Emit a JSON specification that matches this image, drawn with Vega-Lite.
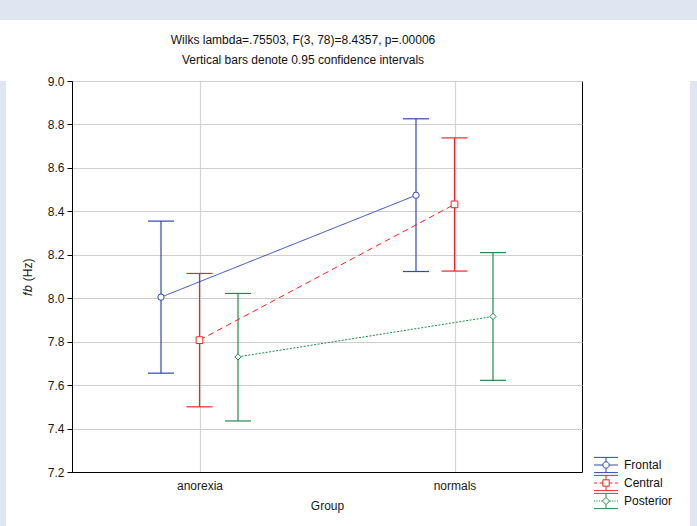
{
  "$schema": "https://vega.github.io/schema/vega-lite/v6.json",
  "padding": 0,
  "background": "white",
  "spacing": 13,
  "config": {
    "font": "Liberation Sans",
    "axis": {"labelFont": "Liberation Sans", "titleFont": "Liberation Sans", "labelFontSize": 12, "titleFontSize": 12, "titleFontWeight": "normal", "labelColor": "#1a1a1a", "titleColor": "#1a1a1a"},
    "legend": {"labelFont": "Liberation Sans"}
  },
  "vconcat": [
    {
      "width": 697, "height": 20,
      "data": {"values": []},
      "mark": "point",
      "view": {"fill": "#dfe6f2", "stroke": null}
    },
    {
      "spacing": 0,
      "bounds": "flush",
      "hconcat": [
        {
          "width": 6, "height": 445,
          "data": {"values": []},
          "mark": "point",
          "view": {"fill": "#dfe6f2", "stroke": null}
        },
        {
          "width": 66, "height": 445,
          "data": {"values": []},
          "mark": "point",
          "view": {"fill": null, "stroke": null}
        },
        {
          "width": 510,
          "height": 391,
          "title": {
            "text": ["Wilks lambda=.75503, F(3, 78)=8.4357, p=.00006", "Vertical bars denote 0.95 confidence intervals"],
            "font": "Liberation Sans", "fontSize": 12, "fontWeight": "normal", "color": "#111111",
            "lineHeight": 20, "anchor": "middle", "frame": "group", "dx": -24, "offset": 8
          },
          "view": {"stroke": "black", "strokeWidth": 1, "fill": "white"},
          "data": {
            "values": [
              {"series": "Frontal", "group": "anorexia", "mean": 8.005, "lo": 7.655, "hi": 8.355},
              {"series": "Central", "group": "anorexia", "mean": 7.807, "lo": 7.500, "hi": 8.114},
              {"series": "Posterior", "group": "anorexia", "mean": 7.730, "lo": 7.435, "hi": 8.022},
              {"series": "Frontal", "group": "normals", "mean": 8.474, "lo": 8.123, "hi": 8.826},
              {"series": "Central", "group": "normals", "mean": 8.432, "lo": 8.125, "hi": 8.738},
              {"series": "Posterior", "group": "normals", "mean": 7.916, "lo": 7.622, "hi": 8.210}
            ]
          },
          "encoding": {
            "x": {
              "field": "group", "type": "nominal", "title": "Group",
              "scale": {"type": "point", "padding": 0.5},
              "axis": {"labelAngle": 0, "ticks": false, "labelPadding": 8, "titlePadding": 9, "domainColor": "black", "grid": true, "gridColor": "#d4d4d4", "gridWidth": 1.2}
            },
            "xOffset": {
              "field": "series", "type": "nominal",
              "scale": {"type": "point", "padding": 0, "domain": ["Frontal", "Central", "Posterior"], "range": [-38.5, 38.5]}
            },
            "color": {
              "field": "series", "type": "nominal",
              "scale": {"domain": ["Frontal", "Central", "Posterior"], "range": ["#2f48b4", "#f42424", "#1e8c4c"]},
              "legend": null
            }
          },
          "layer": [
            {
              "mark": {"type": "rule", "strokeWidth": 1.2},
              "encoding": {
                "y": {
                  "field": "lo", "type": "quantitative", "title": [" ", "𝑓𝑏 (Hz)"],
                  "scale": {"domain": [7.2, 9.0], "nice": false, "zero": false},
                  "axis": {"values": [7.2, 7.4, 7.6, 7.8, 8.0, 8.2, 8.4, 8.6, 8.8, 9.0], "format": ".1f", "tickSize": 5, "tickColor": "black", "labelPadding": 3, "titlePadding": 13, "titleLineHeight": 14, "domainColor": "black", "grid": true, "gridColor": "#cfcfcf", "gridWidth": 1}
                },
                "y2": {"field": "hi"}
              }
            },
            {
              "mark": {"type": "point", "shape": "M-1,0H1", "size": 676, "filled": false, "opacity": 1, "strokeWidth": 1.2},
              "encoding": {"y": {"field": "hi", "type": "quantitative"}}
            },
            {
              "mark": {"type": "point", "shape": "M-1,0H1", "size": 676, "filled": false, "opacity": 1, "strokeWidth": 1.2},
              "encoding": {"y": {"field": "lo", "type": "quantitative"}}
            },
            {
              "mark": {"type": "line", "strokeWidth": 1},
              "encoding": {
                "y": {"field": "mean", "type": "quantitative"},
                "strokeDash": {
                  "field": "series", "type": "nominal",
                  "scale": {"domain": ["Frontal", "Central", "Posterior"], "range": [[1, 0], [6, 4], [2, 1.5]]},
                  "legend": null
                }
              }
            },
            {
              "transform": [{"filter": "datum.series === 'Frontal'"}],
              "mark": {"type": "point", "shape": "circle", "filled": false, "fill": "white", "size": 40, "opacity": 1, "strokeWidth": 1},
              "encoding": {"y": {"field": "mean", "type": "quantitative"}}
            },
            {
              "transform": [{"filter": "datum.series === 'Central'"}],
              "mark": {"type": "point", "shape": "square", "filled": false, "fill": "white", "size": 45, "opacity": 1, "strokeWidth": 1},
              "encoding": {"y": {"field": "mean", "type": "quantitative"}}
            },
            {
              "transform": [{"filter": "datum.series === 'Posterior'"}],
              "mark": {"type": "point", "shape": "diamond", "filled": false, "fill": "white", "size": 40, "opacity": 1, "strokeWidth": 1},
              "encoding": {"y": {"field": "mean", "type": "quantitative"}}
            },
            {
              "mark": {"type": "point", "filled": false, "opacity": 0, "strokeWidth": 1},
              "encoding": {
                "y": {"field": "mean", "type": "quantitative"},
                "shape": {
                  "field": "series", "type": "nominal",
                  "scale": {"domain": ["Frontal", "Central", "Posterior"], "range": [
                    "M-2.4,-1.52H2.4M-2.4,1.52H2.4M0,-1.52V-0.64M0,0.64V1.52M-2.4,0H-0.64M0.64,0H2.4M0.64,0A0.64,0.64 0 1,1 -0.64,0A0.64,0.64 0 1,1 0.64,0",
                    "M-2.4,-1.52H2.4M-2.4,1.52H2.4M0,-1.52V-0.64M0,0.64V1.52M-2.4,0H-1.8M-1.3,0H-0.64M0.64,0H1.3M1.8,0H2.4M-0.64,-0.64H0.64V0.64H-0.64Z",
                    "M-2.4,-1.52H2.4M-2.4,1.52H2.4M0,-1.52V-0.72M0,0.72V1.52M-2.4,0H-2.16M-1.92,0H-1.68M-1.44,0H-1.2M-0.96,0H-0.72M0.72,0H0.96M1.2,0H1.44M1.68,0H1.92M2.16,0H2.4M0,-0.72L0.72,0L0,0.72L-0.72,0Z"
                  ]},
                  "legend": {
                    "orient": "none", "legendX": 528, "legendY": 378, "title": null,
                    "symbolSize": 100, "symbolStrokeWidth": 1, "symbolFillColor": "white", "symbolOpacity": 1,
                    "symbolStrokeColor": {"expr": "datum.value === 'Frontal' ? '#2f48b4' : datum.value === 'Central' ? '#f42424' : '#1e8c4c'"},
                    "labelFontSize": 12, "labelColor": "#111111", "labelOffset": 12, "rowPadding": -2, "padding": 0, "labelLimit": 60,
                    "encode": {"symbols": {"enter": {
                      "stroke": {"signal": "datum.value === 'Frontal' ? '#2f48b4' : datum.value === 'Central' ? '#f42424' : '#1e8c4c'"}
                    }, "update": {
                      "stroke": {"signal": "datum.value === 'Frontal' ? '#2f48b4' : datum.value === 'Central' ? '#f42424' : '#1e8c4c'"},
                      "fill": {"value": "white"},
                      "opacity": {"value": 1}
                    }}}
                  }
                }
              }
            }
          ],
          "resolve": {"scale": {"shape": "independent"}}
        },
        {
          "width": 108, "height": 445,
          "data": {"values": []},
          "mark": "point",
          "view": {"fill": null, "stroke": null}
        },
        {
          "width": 7, "height": 445,
          "data": {"values": []},
          "mark": "point",
          "view": {"fill": "#dfe6f2", "stroke": null}
        }
      ]
    }
  ]
}
